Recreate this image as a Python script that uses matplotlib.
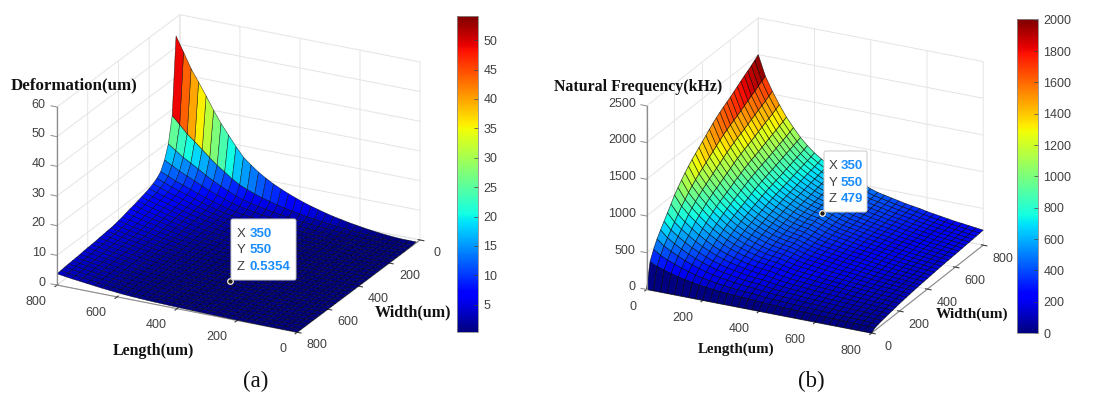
import numpy as np
import matplotlib
matplotlib.use('Agg')
from matplotlib import pyplot as plt
from matplotlib import cm, colors
from matplotlib.patches import FancyBboxPatch
from matplotlib.transforms import IdentityTransform
from mpl_toolkits.mplot3d import proj3d

plt.rcParams['font.family'] = ['Liberation Sans', 'DejaVu Sans']
plt.rcParams['grid.color'] = '#e4e4e4'
plt.rcParams['grid.linewidth'] = 0.7

W, H = 1095, 405

# grid nodes of the two surfaces (um)
length_a = np.arange(0, 825, 25)
width_a = np.arange(25, 825, 25)
length_b = np.arange(0, 825, 25)
width_b = np.arange(0, 825, 25)

# (a) deformation read along the edge width = 25, length 0..800
defo_along_length = [0.34, 0.35, 0.36, 0.5, 0.7, 0.95, 1.25, 1.6, 2.0, 2.4, 2.9, 3.4, 4.0, 4.7, 5.4, 6.2, 7.1,
                     8.1, 9.2, 10.4, 11.8, 13.4, 15.3, 17.4, 20.5, 23.9, 27.3, 31.3, 35.6, 39.8, 43.8, 48.9, 53.8]
# (a) deformation read along the edge length = 800, width 25..800
defo_along_width = [53.8, 28.0, 19.4, 14.9, 12.0, 10.7, 9.8, 9.2, 8.7, 8.3, 7.9, 7.5, 7.2, 6.8, 6.4, 6.1,
                    5.8, 5.6, 5.5, 5.3, 5.2, 5.0, 4.9, 4.8, 4.7, 4.5, 4.4, 4.3, 4.2, 4.1, 3.9, 3.8]
# (b) frequency read along the edge width = 800, length 0..800
freq_along_length = [2000, 1730, 1540, 1376, 1225, 1100, 985, 890, 810, 745, 690, 640, 600, 570, 550, 510, 470,
                     440, 420, 400, 380, 360, 345, 330, 310, 295, 280, 265, 250, 240, 228, 216, 205]
# (b) frequency read along the edge length = 0, width 0..800
freq_along_width = [0, 340, 470, 575, 660, 740, 820, 900, 985, 1050, 1115, 1175, 1230, 1280, 1325, 1370, 1415,
                    1460, 1505, 1550, 1590, 1625, 1660, 1690, 1720, 1755, 1790, 1825, 1860, 1890, 1925, 1960, 2000]

# only the edges were read, the inside of each surface is edge x edge
z_a = np.outer(defo_along_width, defo_along_length) / defo_along_width[0]
z_b = np.outer(freq_along_width, freq_along_length) / freq_along_width[-1]

ticks_xy = [0, 200, 400, 600, 800]
ticks_za = [0, 10, 20, 30, 40, 50, 60]
ticks_zb = [0, 500, 1000, 1500, 2000, 2500]
cbar_ticks_a = [5, 10, 15, 20, 25, 30, 35, 40, 45, 50]
cbar_ticks_b = [0, 200, 400, 600, 800, 1000, 1200, 1400, 1600, 1800, 2000]
clim_a = (0.36, 54.1)
clim_b = (0, 2005)
tip_a = (350, 550, 0.5354)
tip_b = (350, 550, 479)


def px_rect(left, top, right, bottom):
    # pixel box (y from top of the picture) to figure fraction
    return [left / W, 1 - bottom / H, (right - left) / W, (bottom - top) / H]


def draw_surface(rect, x, y, z, clim, zlim, zticks, aspect, azim, elev, tip, corner, out, lw):
    ax = fig.add_axes(rect, projection='3d', proj_type='ortho', computed_zorder=False)
    ax.patch.set_alpha(0)
    ax.set_box_aspect(aspect)
    ax.view_init(elev=elev, azim=azim)
    norm = colors.Normalize(*clim)
    X, Y = np.meshgrid(x, y)
    face = cm.jet(norm(z))
    ax.plot_surface(X, Y, z, rstride=1, cstride=1, facecolors=face, shade=False,
                    edgecolor=(0, 0, 0, 0.7), linewidth=lw, zorder=1)
    ax.scatter([tip[0]], [tip[1]], [tip[2]], s=16, c='#1a1a1a', edgecolors='#fff8dc',
               linewidths=0.9, depthshade=False, zorder=5)
    ax.set_xlim(0, 800, view_margin=0)
    ax.set_ylim(0, 800, view_margin=0)
    ax.set_zlim(zlim[0], zlim[1], view_margin=0)
    ax.set_xticks(ticks_xy)
    ax.set_yticks(ticks_xy)
    ax.set_zticks(zticks)
    ax.tick_params(colors='#404040', labelsize=9, pad=5)
    for lab in ax.get_xticklabels():
        lab.set_ha('right')
        lab.set_va('bottom')
    for lab in ax.get_yticklabels():
        lab.set_ha('center')
        lab.set_va('bottom')
    ax.get_yticklabels()[0].set_ha('right')
    for axis in (ax.xaxis, ax.yaxis, ax.zaxis):
        axis.set_pane_color((1, 1, 1, 0))
        axis.pane.set_edgecolor('#e4e4e4')
        axis.line.set_color('#8c8c8c')
        axis.line.set_linewidth(0.8)
    # mplot3d keeps the z axis on the right in these views, the picture has it on the left
    ax.zaxis.set_ticklabels([])
    ax.tick_params(axis='z', color=(0, 0, 0, 0))
    ax.zaxis.line.set_color((0, 0, 0, 0))
    cx, cy = corner
    ax.plot([cx, cx], [cy, cy], [zlim[0], zlim[1]], color='#8c8c8c', lw=0.9, zorder=6)
    proj = ax.get_proj()
    for t in zticks:
        ax.plot([cx, cx + out * 20], [cy, cy], [t, t], color='#8c8c8c', lw=0.7, zorder=6)
        tx, ty, _ = proj3d.proj_transform(cx + out * 38, cy, t, proj)
        ax.text2D(tx, ty, str(t), transform=ax.transData, color='#404040', fontsize=9,
                  ha='right', va='center')
    return ax, norm


def draw_colorbar(rect, norm, ticks):
    cax = fig.add_axes(rect)
    cb = fig.colorbar(cm.ScalarMappable(norm=norm, cmap='jet'), cax=cax, ticks=ticks)
    cb.outline.set_edgecolor('#8c8c8c')
    cb.outline.set_linewidth(0.6)
    cax.tick_params(direction='in', length=3, width=0.5, color='#404040',
                    labelcolor='#404040', labelsize=9, pad=4)


def draw_tip(box, rows, xlab, xval):
    left, top, right, bottom = box
    fig.add_artist(FancyBboxPatch((left + 2, H - bottom + 2), right - left - 4, bottom - top - 4,
                                  boxstyle='round,pad=2', transform=IdentityTransform(),
                                  fc='white', ec='#c8c8c8', lw=0.7, zorder=10))
    for (name, val), y in zip(rows, [top + 15, top + 31.5, top + 48]):
        fig.text(xlab / W, 1 - y / H, name, color='#404040', fontsize=9.5, va='center', zorder=11)
        fig.text(xval / W, 1 - y / H, val, color='#1a8cff', fontsize=9.5, weight='bold', va='center', zorder=11)


def label(cx, cy, s, size, weight='bold'):
    fig.text(cx / W, 1 - cy / H, s, family=['Liberation Serif', 'DejaVu Serif'], fontsize=size,
             weight=weight, color='#111111', ha='center', va='center', zorder=12)


fig = plt.figure(figsize=(W / 100, H / 100), dpi=100, facecolor='white')

ax_a, norm_a = draw_surface([25.4 / W, 18.4 / H, 415 / W, 415 / H], length_a, width_a, z_a, clim_a,
                            (0, 60), ticks_za, (1, 1, 0.715), 117.1, 22.6, tip_a, (800, 800), 1, 0.4)
ax_b, norm_b = draw_surface([611.8 / W, 26.4 / H, 395.5 / W, 395.5 / H], length_b, width_b, z_b, clim_b,
                            (0, 2500), ticks_zb, (1, 1, 0.794), -63.6, 23, tip_b, (0, 0), -1, 0.5)

draw_colorbar(px_rect(457, 16, 478, 332), norm_a, cbar_ticks_a)
draw_colorbar(px_rect(1017, 19, 1038, 333), norm_b, cbar_ticks_b)

draw_tip((231, 219, 296, 280), [('X', '350'), ('Y', '550'), ('Z', '0.5354')], 237, 250)
draw_tip((824, 151, 867, 212), [('X', '350'), ('Y', '550'), ('Z', '479')], 829, 841)

label(74, 85, 'Deformation(um)', 12.2)
label(153, 351, 'Length(um)', 11.4)
label(413, 312, 'Width(um)', 11.5)
label(256, 381, '(a)', 16.5, weight='normal')
label(638, 87, 'Natural Frequency(kHz)', 11.4)
label(736, 349, 'Length(um)', 10.8)
label(972, 314, 'Width(um)', 11)
label(811, 381, '(b)', 16.5, weight='normal')

fig.savefig('out.png', dpi=100)
